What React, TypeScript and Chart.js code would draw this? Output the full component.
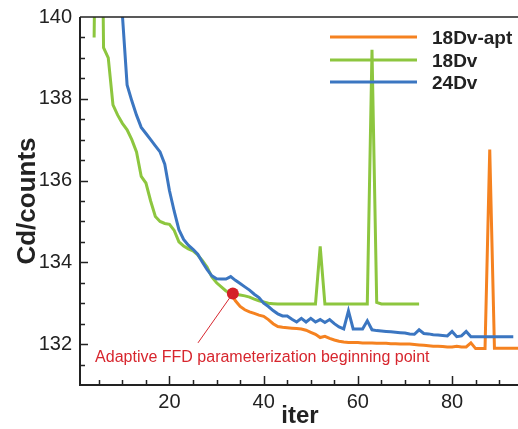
import React, { useEffect, useRef } from "react";
import { Chart, registerables } from "chart.js";

Chart.register(...registerables);

// ---- data ----
const seriesNames = ["18Dv-apt", "18Dv", "24Dv"];
const seriesColors = ["#F58220", "#8DC63F", "#3B76C1"];

// 18Dv-apt (orange) starts at iteration 33
const aptStart = 33;
const aptValues = [
  133.24, 133.06, 132.92, 132.84, 132.79, 132.75, 132.71, 132.68, 132.6, 132.5,
  132.43, 132.41, 132.4, 132.39, 132.38, 132.37, 132.34, 132.29, 132.24, 132.16,
  132.19, 132.14, 132.1, 132.07, 132.05, 132.04, 132.04, 132.04, 132.03, 132.03,
  132.03, 132.02, 132.02, 132.02, 132.01, 132.01, 132.0, 132.0, 132.0, 131.99,
  131.98, 131.97, 131.96, 131.95, 131.95, 131.94, 131.93, 131.93, 131.95, 131.93,
  131.93, 132.03, 131.89, 131.89, 131.89, 136.76, 131.9, 131.9, 131.9, 131.9,
  131.9, 131.9,
];

// 18Dv (green) starts at iteration 4
const dv18Start = 4;
const dv18Values = [
  139.5, 150.0, 139.25, 139.0, 137.85, 137.6, 137.4, 137.24, 137.0, 136.7,
  136.1, 135.94, 135.5, 135.12, 135.0, 134.95, 134.93, 134.78, 134.5, 134.4,
  134.33, 134.28, 134.18, 134.04, 133.88, 133.64, 133.5, 133.4, 133.3, 133.24,
  133.22, 133.2, 133.18, 133.15, 133.1, 133.06, 133.03, 133.0, 132.99, 132.98,
  132.98, 132.98, 132.98, 132.98, 132.98, 132.98, 132.98, 132.98, 134.39, 132.98,
  132.98, 132.98, 132.98, 132.98, 132.98, 132.98, 132.98, 132.98, 132.98, 139.2,
  133.02, 132.98, 132.98, 132.98, 132.98, 132.98, 132.98, 132.98, 132.98, 132.98,
];

// 24Dv (blue) starts at iteration 9
const dv24Start = 9;
const dv24Values = [
  150.0, 140.05, 138.34, 137.95, 137.6, 137.3, 137.15, 137.0, 136.85, 136.7,
  136.4, 135.75, 135.25, 134.8, 134.56, 134.42, 134.32, 134.2, 134.0, 133.82,
  133.67, 133.6, 133.59, 133.59, 133.65, 133.56, 133.48, 133.4, 133.32, 133.22,
  133.14, 133.0, 132.92, 132.82, 132.74, 132.69, 132.69, 132.61, 132.54, 132.63,
  132.54, 132.63, 132.54, 132.6, 132.53, 132.6, 132.5, 132.42, 132.37, 132.81,
  132.37, 132.37, 132.37, 132.57, 132.35, 132.33, 132.32, 132.31, 132.3, 132.29,
  132.28, 132.27, 132.25, 132.24, 132.35, 132.26, 132.25, 132.23, 132.22, 132.21,
  132.2, 132.31, 132.18, 132.2, 132.31, 132.18, 132.18, 132.18, 132.18, 132.18,
  132.18, 132.18, 132.18, 132.18, 132.18,
];

const yTickValues = [132, 134, 136, 138, 140];
const xTickValues = [20, 40, 60, 80];

const markerPoint = { x: 33.45, y: 133.24 };
const annotationText = "Adaptive FFD parameterization beginning point";

const FONT = "'Liberation Sans', Arial, Helvetica, sans-serif";

function toPoints(start: number, values: number[]) {
  return values.map((v, i) => ({ x: start + i, y: v }));
}

const decorPlugin = {
  id: "decor",
  afterDatasetsDraw(chart: any) {
    const { ctx, chartArea: a, scales } = chart;
    const xs = scales.x;
    const ys = scales.y;
    ctx.save();
    // frame
    ctx.strokeStyle = "#222";
    ctx.lineWidth = 2;
    ctx.beginPath();
    ctx.moveTo(a.left, a.top);
    ctx.lineTo(a.left, a.bottom);
    ctx.lineTo(a.right, a.bottom);
    ctx.stroke();
    ctx.lineWidth = 1.5;
    ctx.beginPath();
    ctx.moveTo(a.left, a.top);
    ctx.lineTo(a.right, a.top);
    ctx.stroke();
    // ticks (inward)
    ctx.lineWidth = 1.5;
    ctx.beginPath();
    for (let v = 5; v <= 90; v += 5) {
      const px = Math.round(xs.getPixelForValue(v)) + 0.5;
      const len = v % 20 === 0 ? 9 : 5;
      ctx.moveTo(px, a.bottom);
      ctx.lineTo(px, a.bottom - len);
    }
    for (let v = 131.5; v <= 139.6; v += 0.5) {
      const py = Math.round(ys.getPixelForValue(v)) + 0.5;
      const len = v % 2 === 0 ? 8 : 5;
      ctx.moveTo(a.left, py);
      ctx.lineTo(a.left + len, py);
    }
    ctx.stroke();

    // annotation line + text
    const mx = xs.getPixelForValue(markerPoint.x);
    const my = ys.getPixelForValue(markerPoint.y);
    const ex = xs.getPixelForValue(26.05);
    const ey = ys.getPixelForValue(132.03);
    ctx.strokeStyle = "#D7262E";
    ctx.lineWidth = 1;
    ctx.beginPath();
    ctx.moveTo(mx, my);
    ctx.lineTo(ex, ey);
    ctx.stroke();
    ctx.fillStyle = "#D7262E";
    ctx.font = `16px ${FONT}`;
    ctx.textAlign = "left";
    ctx.textBaseline = "alphabetic";
    ctx.fillText(annotationText, xs.getPixelForValue(4.2), ys.getPixelForValue(131.56));

    // legend
    const legendLineX0 = 330;
    const legendLineX1 = 417;
    const rows = [37, 60, 82];
    ctx.font = `bold 19px ${FONT}`;
    seriesNames.forEach((name, i) => {
      ctx.strokeStyle = seriesColors[i];
      ctx.lineWidth = 3;
      ctx.beginPath();
      ctx.moveTo(legendLineX0, rows[i]);
      ctx.lineTo(legendLineX1, rows[i]);
      ctx.stroke();
      ctx.fillStyle = "#222";
      ctx.fillText(name, 432, rows[i] + 6.5);
    });

    // axis titles
    ctx.fillStyle = "#222";
    ctx.font = `bold 24px ${FONT}`;
    ctx.textAlign = "center";
    ctx.fillText("iter", 300, 423);
    ctx.save();
    ctx.translate(35, 201);
    ctx.rotate(-Math.PI / 2);
    ctx.font = `bold 26px ${FONT}`;
    ctx.fillText("Cd/counts", 0, 0);
    ctx.restore();

    ctx.restore();
  },
};

export default function App() {
  const canvasRef = useRef<HTMLCanvasElement | null>(null);

  useEffect(() => {
    const canvas = canvasRef.current;
    if (!canvas) return;
    const chart = new Chart(canvas, {
      type: "line",
      data: {
        datasets: [
          {
            label: "marker",
            data: [markerPoint],
            showLine: false,
            pointRadius: 6,
            pointHoverRadius: 6,
            pointBackgroundColor: "#D42027",
            pointBorderColor: "#D42027",
            borderWidth: 0,
          },
          {
            label: seriesNames[2],
            data: toPoints(dv24Start, dv24Values),
            borderColor: seriesColors[2],
            borderWidth: 3,
            pointRadius: 0,
            tension: 0,
          },
          {
            label: seriesNames[1],
            data: toPoints(dv18Start, dv18Values),
            borderColor: seriesColors[1],
            borderWidth: 3,
            pointRadius: 0,
            tension: 0,
          },
          {
            label: seriesNames[0],
            data: toPoints(aptStart, aptValues),
            borderColor: seriesColors[0],
            borderWidth: 3,
            pointRadius: 0,
            tension: 0,
          },
        ],
      },
      options: {
        animation: false,
        responsive: false,
        devicePixelRatio: 1,
        layout: { autoPadding: false, padding: { top: 17, right: 0, left: 0, bottom: 0 } },
        plugins: {
          legend: { display: false },
          tooltip: { enabled: false },
        },
        scales: {
          x: {
            type: "linear",
            min: 1,
            max: 94,
            grid: { display: false, drawTicks: false },
            border: { display: false },
            afterBuildTicks: (scale: any) => {
              scale.ticks = xTickValues.map((v) => ({ value: v }));
            },
            afterFit: (scale: any) => {
              scale.height = 44;
              scale.paddingLeft = 0;
              scale.paddingRight = 0;
            },
            ticks: {
              color: "#222",
              padding: 5,
              maxRotation: 0,
              font: { family: FONT, size: 20 },
            },
          },
          y: {
            type: "linear",
            min: 131,
            max: 140,
            grid: { display: false, drawTicks: false },
            border: { display: false },
            afterBuildTicks: (scale: any) => {
              scale.ticks = yTickValues.map((v) => ({ value: v }));
            },
            afterFit: (scale: any) => {
              scale.width = 80;
              scale.paddingTop = 0;
              scale.paddingBottom = 0;
            },
            ticks: {
              color: "#222",
              padding: 8,
              font: { family: FONT, size: 20 },
            },
          },
        },
      },
      plugins: [decorPlugin],
    });
    return () => chart.destroy();
  }, []);

  return (
    <div style={{ position: "fixed", left: 0, top: 0, width: 518, height: 429, background: "#fff" }}>
      <canvas ref={canvasRef} width={518} height={429} />
    </div>
  );
}
